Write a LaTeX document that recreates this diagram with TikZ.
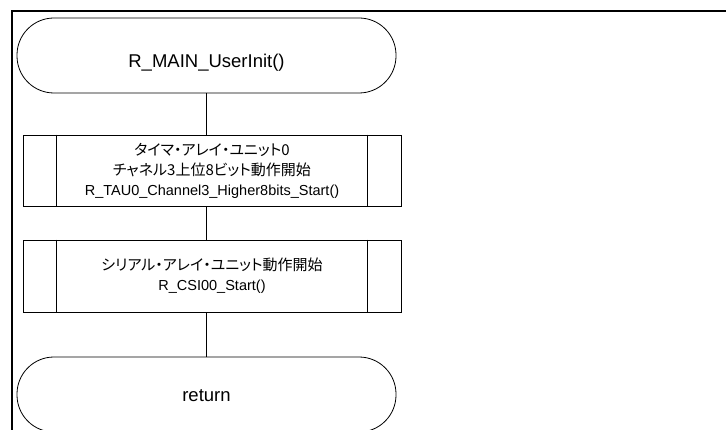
\documentclass[tikz,border=0pt]{standalone}
\usepackage{fontspec}
\setmainfont{Liberation Sans}
\newfontfamily\cjk[RawFeature=+palt]{Noto Sans CJK JP}
\usetikzlibrary{positioning}

\begin{document}
\begin{tikzpicture}[
x=1pt,y=-1pt,
term/.style={
  draw,
  line width=0.8pt,
  rounded corners=37pt,
  minimum width=379pt,
  minimum height=75pt,
  text depth=0pt,
  font=\fontsize{18.5}{22}\selectfont
},
subr/.style={
  draw,
  line width=0.8pt,
  minimum width=378pt,
  minimum height=71pt,
  align=center,
  font=\fontsize{14.5}{20}\selectfont
},
link/.style={line width=0.8pt}
]
\clip (0,0) rectangle (726,430);
% page frame
\draw[line width=1.3pt] (12,430) -- (12,11) -- (726,11);

\node[term,text height=25pt] (init) at (206.5,55.5)
  {R\_MAIN\_UserInit()};
\node[subr] (tau) at (212,170.5)
  {{\cjk\fontsize{15}{20}\selectfont タイマ・アレイ・ユニット0}\\{\cjk\fontsize{15}{20}\selectfont チャネル3上位8ビット動作開始}\\R\_TAU0\_Channel3\_Higher8bits\_Start()};
\node[subr,minimum height=72pt] (csi) at (212,276)
  {{\cjk\fontsize{15}{20}\selectfont シリアル・アレイ・ユニット動作開始}\\R\_CSI00\_Start()};
\node[term,text height=15pt] (ret) at (206.5,394.5)
  {return};

% side bars of the subroutine boxes
\foreach \n in {tau,csi}{
  \draw[link] ([xshift=34pt]\n.north west) -- ([xshift=34pt]\n.south west);
  \draw[link] ([xshift=-34pt]\n.north east) -- ([xshift=-34pt]\n.south east);
}

\draw[link] (init.south) -- (init.south |- tau.north);
\draw[link] (init.south |- tau.south) -- (init.south |- csi.north);
\draw[link] (init.south |- csi.south) -- (ret.north);
\end{tikzpicture}
\end{document}
